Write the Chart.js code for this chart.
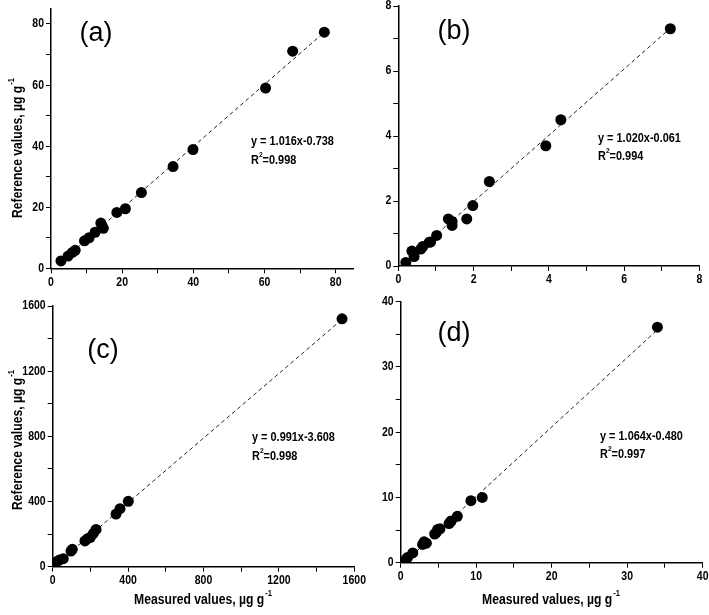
<!DOCTYPE html>
<html><head><meta charset="utf-8">
<script src="https://cdn.jsdelivr.net/npm/chart.js@4.4.0/dist/chart.umd.min.js"></script>
<style>
html,body{margin:0;padding:0;background:#fff;}
#wrap{position:relative;width:709px;height:615px;background:#fff;}
canvas{position:absolute;left:0;top:0;}
</style></head><body><div id="wrap">
<canvas id="ca" width="709" height="615"></canvas>
<canvas id="cb" width="709" height="615"></canvas>
<canvas id="cc" width="709" height="615"></canvas>
<canvas id="cd" width="709" height="615"></canvas>
</div>
<script>
// ---- data ----
const panelLabels = ['(a)', '(b)', '(c)', '(d)'];
const aMeasured  = [2.8, 4.8, 6.0, 6.8, 9.4, 10.7, 12.4, 14.0, 14.3, 14.7, 18.5, 20.9, 25.4, 34.3, 39.9, 60.3, 67.9, 76.8];
const aReference = [2.4, 4.0, 5.2, 5.9, 9.0, 10.0, 11.8, 14.8, 14.0, 13.1, 18.3, 19.5, 24.8, 33.3, 38.9, 59.0, 71.1, 77.3];
const bMeasured  = [0.20, 0.36, 0.42, 0.60, 0.65, 0.82, 0.86, 1.02, 1.33, 1.43, 1.43, 1.82, 1.98, 2.42, 3.92, 4.32, 7.23];
const bReference = [0.11, 0.46, 0.29, 0.52, 0.60, 0.73, 0.74, 0.94, 1.45, 1.37, 1.25, 1.45, 1.86, 2.60, 3.70, 4.50, 7.30];
const cMeasured  = [21, 35, 56, 97, 104, 171, 185, 200, 216, 230, 336, 357, 401, 1535];
const cReference = [31, 41, 49, 96, 107, 158, 172, 180, 205, 229, 323, 356, 401, 1521];
const dMeasured  = [0.7, 0.9, 1.6, 2.9, 3.1, 3.4, 4.5, 4.7, 4.9, 5.2, 6.4, 6.6, 6.7, 7.5, 9.3, 10.8, 34.0];
const dReference = [0.5, 0.8, 1.5, 2.8, 3.2, 3.0, 4.4, 4.6, 5.1, 5.2, 6.0, 6.3, 6.4, 7.1, 9.5, 10.0, 36.1];
const fitSlopes     = [1.016, 1.020, 0.991, 1.064];
const fitIntercepts = [-0.738, -0.061, -3.608, -0.480];
const fitR2         = ['0.998', '0.994', '0.998', '0.997'];
const axisMax   = [85, 8, 1600, 40];
const minorStep = [10, 1, 200, 5];
const majorStep = [20, 2, 400, 10];
const yTitle = 'Reference values, \u00B5g g';
const xTitle = 'Measured values, \u00B5g g';

const measured  = [aMeasured, bMeasured, cMeasured, dMeasured];
const reference = [aReference, bReference, cReference, dReference];

// ---- layout (pixels) ----
const W = 709, H = 615, YW = 40, XH = 24;
const areas = [
  {left: 51,    top: 8.7,   right: 353.5, bottom: 268.3},
  {left: 398.3, top: 6,     right: 699.3, bottom: 266},
  {left: 52.7,  top: 306,   right: 354.3, bottom: 566.7},
  {left: 400.7, top: 301.7, right: 702.7, bottom: 562.7}
];
const labelPos = [[96, 34], [454, 32], [103, 351], [454, 334]];
const eqPos = [[251, 141, 160], [598, 138, 156], [252, 437, 456], [600, 436, 454]];
const yTitlePos = [[18, 148], null, [18, 440], null];
const xTitlePos = [null, null, [203, 600], [551, 600]];

const SANS = "'Liberation Sans',Arial,sans-serif";
const NARROW_SCALE = 0.84;

// draw text horizontally condensed (emulates a narrow bold face)
function narrowText(ctx, text, x, y, align) {
  const w = ctx.measureText(text).width * NARROW_SCALE;
  let x0 = x;
  if (align === 'center') x0 = x - w / 2;
  else if (align === 'right') x0 = x - w;
  ctx.save();
  ctx.translate(x0, y);
  ctx.scale(NARROW_SCALE, 1);
  ctx.textAlign = 'left';
  ctx.fillText(text, 0, 0);
  ctx.restore();
  return w;
}

function drawSup(ctx, text, sup, x, y, font, supFont) {
  ctx.font = font;
  const w1 = ctx.measureText(text).width * NARROW_SCALE;
  ctx.font = supFont;
  const w2 = ctx.measureText(sup).width * NARROW_SCALE;
  const total = w1 + w2 + 1;
  ctx.font = font;
  narrowText(ctx, text, x - total / 2, y, 'left');
  ctx.font = supFont;
  narrowText(ctx, sup, x - total / 2 + w1 + 1, y - 6, 'left');
}

const annot = {
  id: 'annot',
  afterDraw(chart, args, o) {
    const ctx = chart.ctx;
    const i = o.idx;
    ctx.save();
    ctx.fillStyle = '#000';
    ctx.textBaseline = 'middle';
    // tick labels from the library's scales
    ctx.font = 'bold 12.5px ' + SANS;
    const xs = chart.scales.x, ys = chart.scales.y;
    xs.ticks.forEach(t => {
      if (t.label === '') return;
      narrowText(ctx, t.label, xs.getPixelForValue(t.value), xs.top + 14, 'center');
    });
    ys.ticks.forEach(t => {
      if (t.label === '') return;
      narrowText(ctx, t.label, ys.right - 7, ys.getPixelForValue(t.value), 'right');
    });
    // panel label
    ctx.font = '27px ' + SANS;
    ctx.textAlign = 'center';
    ctx.fillText(panelLabels[i], labelPos[i][0], labelPos[i][1]);
    // equation
    const eqFont = 'bold 13px ' + SANS;
    const supFont = 'bold 8px ' + SANS;
    ctx.font = eqFont;
    const sign = fitIntercepts[i] < 0 ? '-' : '+';
    const eq = 'y = ' + fitSlopes[i].toFixed(3) + 'x' + sign + Math.abs(fitIntercepts[i]).toFixed(3);
    narrowText(ctx, eq, eqPos[i][0], eqPos[i][1], 'left');
    const rw = narrowText(ctx, 'R', eqPos[i][0], eqPos[i][2], 'left');
    ctx.font = supFont;
    const sw = narrowText(ctx, '2', eqPos[i][0] + rw, eqPos[i][2] - 5, 'left');
    ctx.font = eqFont;
    narrowText(ctx, '=' + fitR2[i], eqPos[i][0] + rw + sw, eqPos[i][2], 'left');
    // axis titles
    const tFont = 'bold 14.5px ' + SANS;
    const tsFont = 'bold 9px ' + SANS;
    if (yTitlePos[i]) {
      ctx.save();
      ctx.translate(yTitlePos[i][0], yTitlePos[i][1]);
      ctx.rotate(-Math.PI / 2);
      drawSup(ctx, yTitle, '-1', 0, 0, tFont, tsFont);
      ctx.restore();
    }
    if (xTitlePos[i]) {
      drawSup(ctx, xTitle, '-1', xTitlePos[i][0], xTitlePos[i][1], tFont, tsFont);
    }
    ctx.restore();
  }
};

function axisCfg(i, isX) {
  return {
    type: 'linear', min: 0, max: axisMax[i], position: isX ? 'bottom' : 'left',
    afterFit(s) {
      if (isX) { s.height = XH; } else { s.width = YW; }
      s.paddingLeft = 0; s.paddingRight = 0; s.paddingTop = 0; s.paddingBottom = 0;
    },
    grid: {display: true, drawOnChartArea: false, drawTicks: true, tickLength: 5, color: '#000', lineWidth: 1},
    border: {display: true, color: '#000', width: 1.5},
    ticks: {
      stepSize: minorStep[i], includeBounds: false, autoSkip: false, maxRotation: 0,
      padding: 3, color: 'rgba(0,0,0,0)',
      font: {family: SANS, weight: 'bold', size: 11},
      callback: (v) => (Math.abs(v % majorStep[i]) < 1e-9 ? String(v) : '')
    }
  };
}

const ids = ['ca', 'cb', 'cc', 'cd'];
ids.forEach((id, i) => {
  const A = areas[i];
  const pts = measured[i].map((x, k) => ({x: x, y: reference[i][k]}));
  const xs = measured[i];
  const x0 = Math.min(...xs), x1 = Math.max(...xs);
  const fit = [x0, x1].map(x => ({x: x, y: fitSlopes[i] * x + fitIntercepts[i]}));
  new Chart(document.getElementById(id), {
    type: 'scatter',
    data: {datasets: [
      {data: pts, backgroundColor: '#000', borderColor: '#000', pointRadius: 5.5, borderWidth: 0, order: 0},
      {data: fit, showLine: true, borderColor: '#222', borderWidth: 1, borderDash: [4, 3], pointRadius: 0, fill: false, order: 1}
    ]},
    options: {
      responsive: false, animation: false, events: [],
      layout: {padding: {left: A.left - YW, top: A.top, right: W - A.right, bottom: H - A.bottom - XH}},
      plugins: {legend: {display: false}, tooltip: {enabled: false}, annot: {idx: i}},
      scales: {x: axisCfg(i, true), y: axisCfg(i, false)}
    },
    plugins: [annot]
  });
});
</script>
</body></html>
